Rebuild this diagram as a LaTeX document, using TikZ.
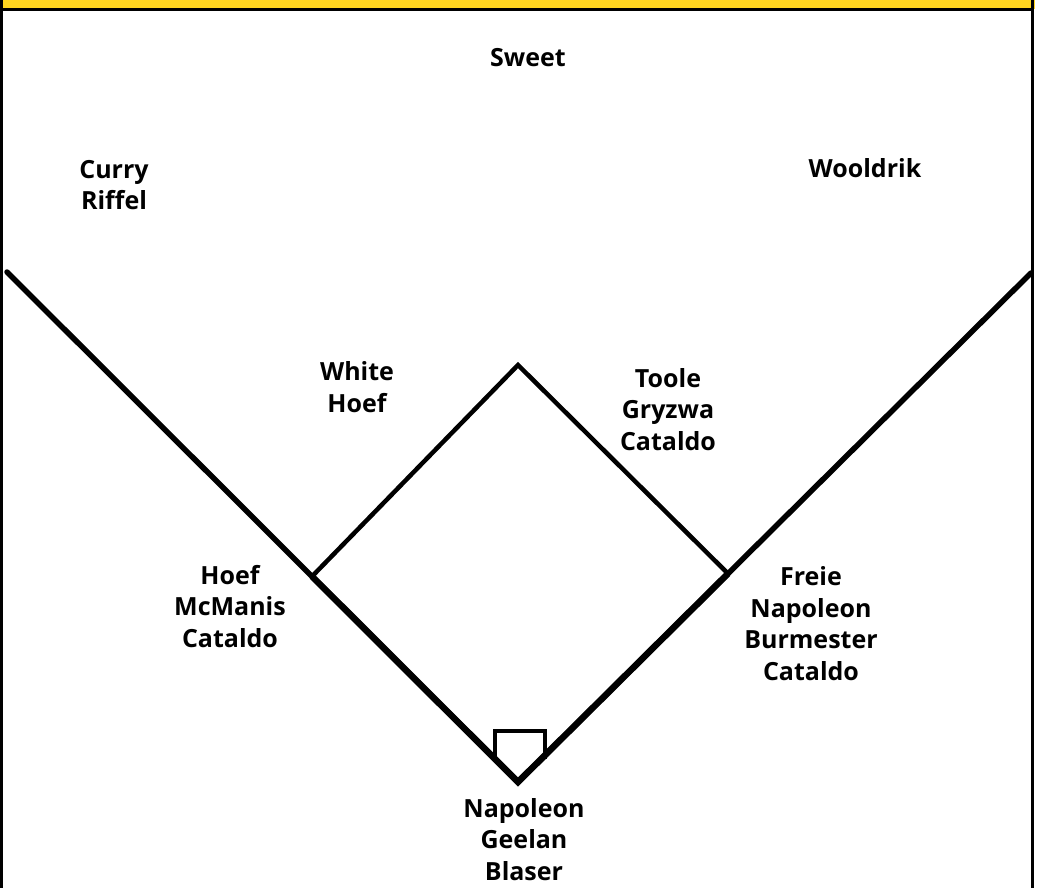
\documentclass[tikz,border=0pt]{standalone}
\usepackage{fontspec}
\usetikzlibrary{calc}
\setmainfont{Open Sans}
\definecolor{banner}{HTML}{FFD520}
\begin{document}
\begin{tikzpicture}[x=1pt,y=-1pt,
  lbl/.style={font=\fontsize{25}{31.5}\selectfont\bfseries, align=center, inner sep=0pt, anchor=base},
  foul/.style={line width=5.5pt, line cap=round},
  basepath/.style={line width=4.5pt, line join=miter},
  plate/.style={line width=4pt, line join=miter}]
\useasboundingbox (0,0) rectangle (1037,888);
\fill[white] (0,0) rectangle (1037,888);
\fill[banner] (0,0) rectangle (1035,9);
\draw[line width=3pt] (1.5,9.5) -- (1033,9.5);
\draw[line width=3pt] (1.5,0) -- (1.5,888);
\draw[line width=3pt] (1032.5,0) -- (1032.5,888);
% field points
\coordinate (home) at (518,782);
\coordinate (lfend) at (7,272);
\coordinate (rfend) at (1031,273);
\coordinate (third) at ($(home)!0.4031!(lfend)$);
\coordinate (first) at ($(home)!0.4094!(rfend)$);
\coordinate (second) at (518,365);
\coordinate (pl) at (495,731);
\coordinate (pr) at (545,731);
\coordinate (pbl) at (495,759);
\coordinate (pbr) at (545,759);
% lines
\draw[foul] (lfend) -- (home) -- (rfend);
\draw[line width=6.5pt] (third) -- (home) -- (first);
\draw[basepath] (third) -- (second) -- (first);
\draw[plate] (pbl) -- (pl) -- (pr) -- (pbr);
% labels
\node[lbl] (cf) at (528,67) {Sweet};
\node[lbl] (lf) at (114,210) {Curry\\Riffel};
\node[lbl] (rf) at (865,178) {Wooldrik};
\node[lbl] (ss) at (357,412) {White\\Hoef};
\node[lbl] (b2) at (668,450) {Toole\\Gryzwa\\Cataldo};
\node[lbl] (b3) at (230,647) {Hoef\\McManis\\Cataldo};
\node[lbl] (b1) at (811,680) {Freie\\Napoleon\\Burmester\\Cataldo};
\node[lbl] (c) at (524,880) {Napoleon\\Geelan\\Blaser};
\end{tikzpicture}
\end{document}
